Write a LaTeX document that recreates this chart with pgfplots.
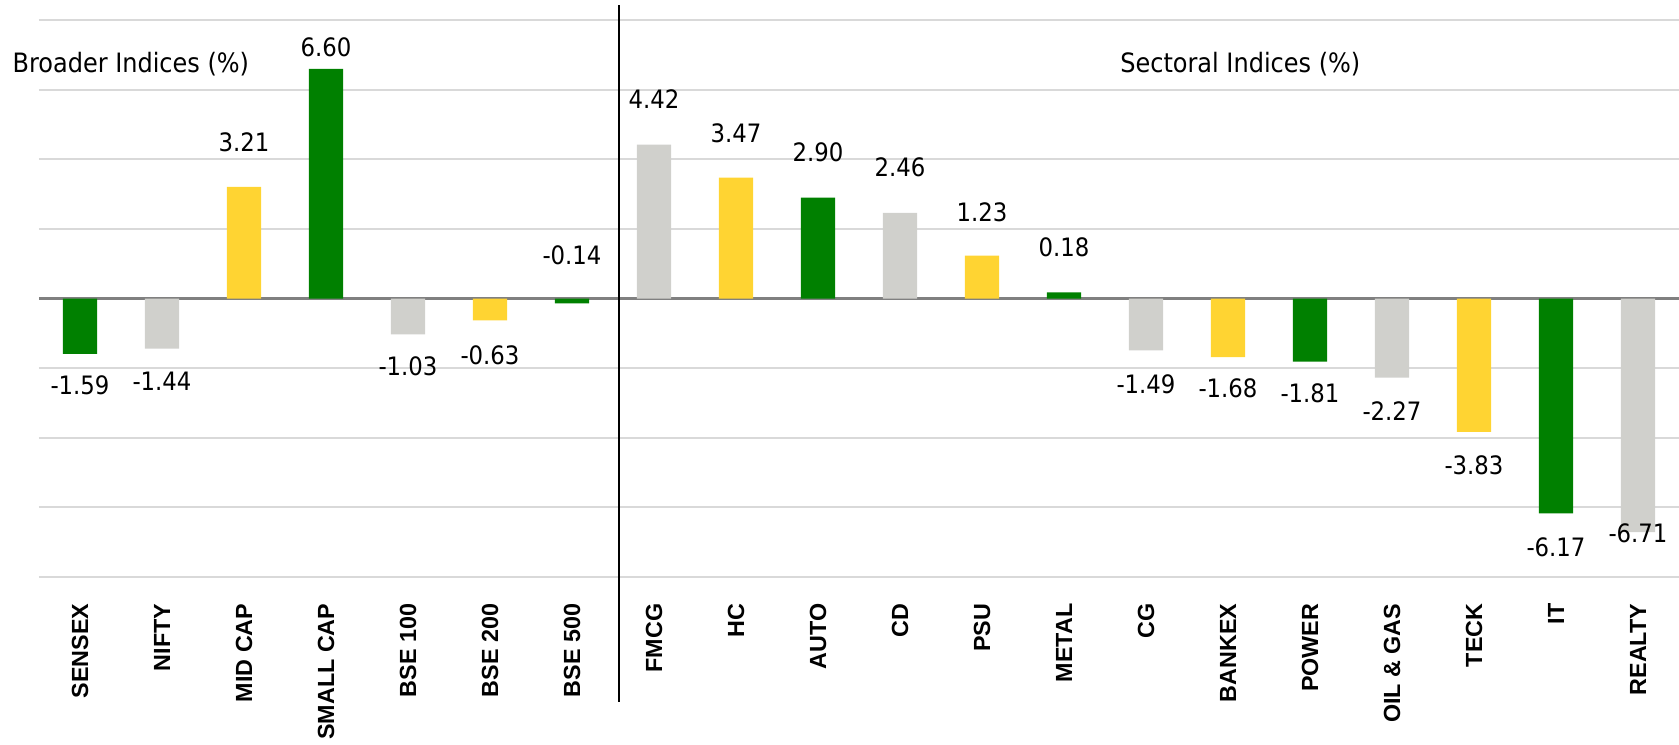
\documentclass[border=0pt]{standalone}
\usepackage{fontspec}
\setmainfont{Liberation Sans}
\newfontfamily\valfont[FakeStretch=0.9]{DejaVu Sans}
\usepackage{pgfplots}
\usepackage{pgfplotstable}
\pgfplotsset{compat=1.18}
\definecolor{bargreen}{RGB}{0,128,0}
\definecolor{baryellow}{RGB}{255,212,50}
\definecolor{bargrey}{RGB}{208,208,204}
\definecolor{gridgrey}{RGB}{217,217,217}

% value labels: x, label height, text
\pgfplotstableread{
x ly lab
0 -2.50 -1.59
1 -2.39 -1.44
2 4.48 3.21
3 7.21 6.60
4 -1.96 -1.03
5 -1.64 -0.63
6 1.25 -0.14
7 5.73 4.42
8 4.75 3.47
9 4.19 2.90
10 3.76 2.46
11 2.49 1.23
12 1.46 0.18
13 -2.45 -1.49
14 -2.59 -1.68
15 -2.73 -1.81
16 -3.22 -2.27
17 -4.80 -3.83
18 -7.14 -6.17
19 -6.73 -6.71
}\labels

\begin{document}
\begin{tikzpicture}
\begin{axis}[at={(0,0)}, anchor=south west, width=492pt, height=167.1pt, scale only axis,
  xmin=-0.5, xmax=19.5, ymin=-8, ymax=8,
  ytick={-8,-6,...,8}, yticklabels={}, ymajorgrids, grid style={gridgrey, line width=0.6pt},
  axis line style={draw=none}, major tick length=0pt,
  xtick={0,...,19},
  xticklabels={SENSEX, NIFTY, MID CAP, SMALL CAP, BSE 100, BSE 200, BSE 500, FMCG, HC, AUTO, CD, PSU, METAL, CG, BANKEX, POWER, OIL \& GAS, TECK, IT, REALTY},
  xticklabel style={rotate=90, anchor=east, font=\fontsize{7}{8}\selectfont\bfseries, inner sep=0pt},
  xticklabel shift=7.8pt,
  extra y ticks={0}, extra y tick labels={},
  extra y tick style={grid=major, major grid style={black!50, line width=0.9pt}},
  clip=false]
\addplot[ybar, bar width=0.42, bar shift=0pt, fill=bargreen, draw=none]
  coordinates {(0,-1.59) (3,6.60) (6,-0.14) (9,2.90) (12,0.18) (15,-1.81) (18,-6.17)};
\addplot[ybar, bar width=0.42, bar shift=0pt, fill=bargrey, draw=none]
  coordinates {(1,-1.44) (4,-1.03) (7,4.42) (10,2.46) (13,-1.49) (16,-2.27) (19,-6.71)};
\addplot[ybar, bar width=0.42, bar shift=0pt, fill=baryellow, draw=none]
  coordinates {(2,3.21) (5,-0.63) (8,3.47) (11,1.23) (14,-1.68) (17,-3.83)};
\addplot[draw=none, mark=none, nodes near coords, point meta=explicit symbolic,
  nodes near coords style={anchor=center, font=\valfont\fontsize{7.6}{9}\selectfont, inner sep=0pt}]
  table[x=x, y=ly, meta=lab] \labels;
\node[font=\valfont\fontsize{8}{9}\selectfont] at (axis cs:0.62,6.74) {Broader Indices (\%)};
\node[font=\valfont\fontsize{8}{9}\selectfont] at (axis cs:14.15,6.74) {Sectoral Indices (\%)};
\draw[black, line width=0.6pt] (axis cs:6.57,8.43) -- (axis cs:6.57,-11.6);
\end{axis}
\pgfresetboundingbox
\useasboundingbox (-11.7pt,-50.1pt) rectangle (492pt,173.1pt);
\end{tikzpicture}
\end{document}
